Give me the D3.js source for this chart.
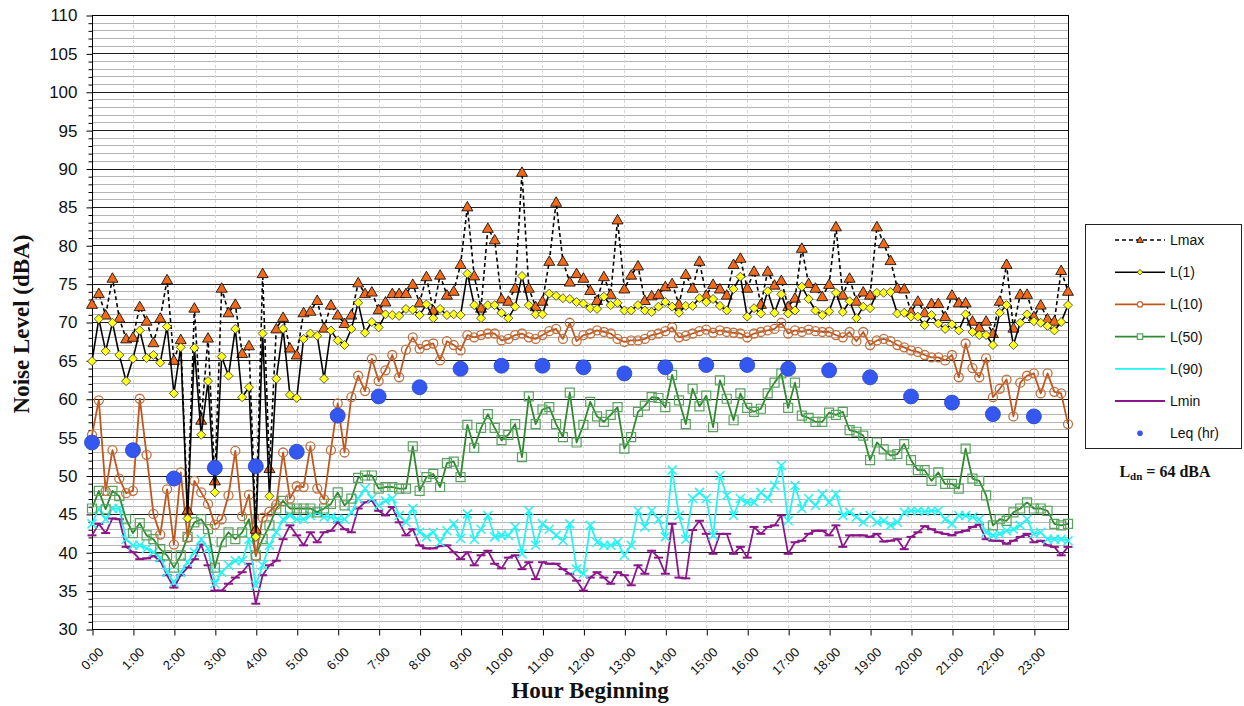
<!DOCTYPE html>
<html>
<head>
<meta charset="utf-8">
<script src="https://cdn.jsdelivr.net/npm/d3@7/dist/d3.min.js"></script>
<style>
  html, body { margin: 0; padding: 0; background: #fff; }
  svg { display: block; }
</style>
</head>
<body>
<svg id="chart" width="1244" height="706"></svg>
<script>
// Hour labels shown on the category axis, and the 10-minute steps inside each hour
const hourLabels = ["0:00","1:00","2:00","3:00","4:00","5:00","6:00","7:00","8:00","9:00","10:00","11:00",
  "12:00","13:00","14:00","15:00","16:00","17:00","18:00","19:00","20:00","21:00","22:00","23:00"];
const minuteSteps = ["00","10","20","30","40","50"];
const categories = hourLabels.flatMap(h => minuteSteps.map(m => h.replace(":00", ":" + m)));

const yTicks = [30,35,40,45,50,55,60,65,70,75,80,85,90,95,100,105,110];

// 10-minute statistics, dBA
const lmax = [72.3,73.7,70.9,75.7,70.5,67.8, 68.0,72.0,70.1,67.3,70.5,75.5, 65.0,67.7,45.5,71.8,57.2,67.9,
  49.3,74.4,71.2,72.3,65.9,66.9, 43.0,76.3,50.9,69.1,70.6,66.6, 65.7,71.2,71.4,72.8,69.2,72.2,
  70.9,69.8,70.9,75.1,73.7,73.9, 71.6,72.6,73.7,73.7,73.7,74.9, 72.5,75.9,71.5,76.1,73.5,74.0,
  77.5,85.0,76.0,71.8,82.2,80.7, 73.0,72.7,74.4,89.5,74.4,72.0, 72.7,77.9,85.6,77.9,75.2,76.3,
  75.7,74.1,72.8,75.9,73.6,83.3, 74.3,76.1,77.3,72.8,73.4,73.6, 74.6,75.0,72.3,76.2,74.4,77.9,
  73.5,74.9,74.3,73.5,77.5,78.3, 74.4,76.6,72.3,76.6,74.8,75.4, 72.0,73.1,79.6,75.0,74.4,73.3,
  74.9,82.4,73.5,75.7,72.7,73.9, 73.5,82.4,80.2,78.0,74.4,74.3, 71.3,72.7,71.2,72.4,72.4,70.7,
  73.5,72.5,72.5,70.1,69.3,70.1, 68.5,72.7,77.5,69.2,73.6,73.6, 70.7,72.2,70.4,70.1,76.7,74.0];

const l1 = [64.9,70.4,66.2,69.9,65.7,62.3, 65.2,68.9,65.3,65.7,64.7,69.4, 60.7,66.7,44.4,66.6,55.3,62.3,
  47.8,65.5,63.0,69.1,60.2,61.5, 42.0,68.5,47.3,62.6,69.1,60.5, 60.1,67.8,68.5,68.2,62.6,68.9,
  67.6,67.0,69.1,72.5,68.6,70.0, 69.3,71.0,70.9,70.8,71.7,71.6, 70.9,72.3,70.5,71.7,70.9,71.0,
  70.9,76.3,72.2,70.5,72.2,72.2, 71.2,70.5,72.0,76.0,72.2,71.0, 71.0,73.7,73.4,73.1,73.0,72.6,
  72.4,71.8,71.7,73.3,72.2,72.5, 71.5,71.5,72.2,71.5,71.3,72.0, 72.6,72.0,71.2,72.1,72.1,73.1,
  72.6,73.0,72.1,71.5,74.3,75.9, 70.7,71.8,71.1,74.0,71.2,73.6, 71.1,71.5,74.6,73.0,71.5,70.9,
  71.4,73.8,71.3,72.7,70.5,72.0, 71.8,73.8,73.8,73.9,71.1,71.2, 70.7,70.7,69.6,70.9,69.8,69.1,
  69.7,68.9,71.0,68.7,68.3,68.3, 67.0,71.2,72.2,67.0,69.9,71.0, 70.1,69.9,69.5,68.9,70.0,72.2];

const l10 = [55.3,59.8,48.0,53.3,49.6,47.7, 48.0,60.0,52.7,45.0,42.3,48.2, 41.0,50.4,41.9,49.3,47.8,46.3,
  43.6,44.3,47.4,53.2,44.7,47.5, 39.5,44.5,45.3,46.2,53.0,47.0, 48.6,48.5,53.8,48.3,46.9,53.3,
  59.4,53.0,60.2,63.0,61.0,65.2, 62.3,63.7,65.7,62.8,66.4,68.0, 66.5,67.0,67.2,65.0,67.5,67.0,
  66.3,68.3,68.0,68.3,68.5,68.5, 67.6,67.8,68.3,68.5,68.0,67.8, 68.3,68.8,69.1,67.8,69.9,67.5,
  68.3,68.5,68.9,68.7,68.5,67.8, 67.4,67.6,67.6,67.8,68.3,68.5, 68.8,69.3,68.0,68.2,68.5,68.8,
  69.0,68.6,68.9,68.7,68.6,68.5, 68.0,68.5,68.7,68.9,69.1,69.9, 68.5,68.9,68.7,69.0,68.8,68.7,
  68.7,68.3,68.0,68.7,67.5,68.7, 67.0,67.6,67.8,67.5,67.0,66.7, 66.3,66.1,65.7,65.4,65.4,65.0,
  65.7,62.8,67.2,64.0,62.8,65.3, 60.2,61.3,62.5,57.7,62.1,63.0, 63.3,60.7,63.3,60.9,60.7,56.7];

const l50 = [45.7,48.0,45.6,48.0,47.3,44.3, 42.5,43.8,42.2,41.7,40.4,39.6, 38.0,39.6,42.0,43.9,44.3,43.0,
  38.0,41.3,42.6,41.7,42.6,44.3, 39.6,41.7,43.5,45.7,46.7,45.7, 45.7,45.7,45.7,45.2,45.7,46.3,
  47.8,46.1,47.0,49.7,50.0,50.0, 48.3,48.5,48.5,48.3,48.3,53.8, 48.0,49.8,50.2,48.5,51.6,51.8,
  49.8,56.6,53.6,56.2,58.0,56.2, 54.6,55.3,56.7,52.4,60.3,56.7, 58.6,58.9,56.7,55.0,60.8,54.3,
  56.6,59.6,57.7,57.0,57.9,58.9, 53.5,55.0,58.3,59.1,60.2,60.1, 58.9,63.1,59.8,56.7,61.3,59.0,
  60.4,56.3,62.4,60.0,57.2,60.7, 58.8,58.3,58.7,60.7,62.1,63.3, 58.8,62.1,57.8,57.5,57.0,57.0,
  58.2,57.9,58.3,55.9,55.7,55.2, 52.0,54.3,53.4,52.6,52.8,54.1, 52.0,50.7,50.7,49.3,50.4,48.9,
  48.9,48.3,53.5,49.6,49.3,47.4, 43.5,44.3,44.1,45.2,45.7,46.5, 45.7,45.7,45.4,43.7,43.5,43.7];

const l90 = [43.7,45.7,44.3,45.7,45.7,41.7, 40.9,40.9,40.5,40.0,39.3,37.4, 36.1,37.4,38.7,40.0,41.7,40.5,
  35.9,37.4,38.3,38.9,38.9,41.7, 35.7,38.3,40.9,42.6,44.3,44.8, 44.3,44.3,44.8,45.2,44.6,44.6,
  44.3,44.3,45.2,47.0,48.3,47.0, 46.1,46.7,47.0,44.8,43.9,45.7, 42.6,42.0,42.6,41.3,42.8,43.7,
  41.8,45.0,41.7,43.0,44.8,42.0, 42.2,42.2,43.3,39.8,45.4,40.9, 43.7,43.0,42.2,41.5,43.7,37.8,
  37.2,43.5,41.3,40.9,40.9,41.3, 39.6,40.9,45.4,43.3,45.4,44.3, 42.0,50.7,44.8,41.7,47.0,47.8,
  47.0,42.2,50.0,47.4,44.8,47.0, 46.5,46.5,47.8,47.0,48.7,51.3, 44.1,48.7,45.7,47.0,46.1,47.6,
  46.5,47.6,44.8,45.2,44.6,43.9, 44.8,43.9,44.1,43.5,43.9,45.2, 45.4,45.4,45.3,45.4,45.4,44.3,
  43.7,44.8,44.8,44.6,44.3,42.6, 42.2,42.4,42.8,43.0,43.5,44.3, 42.4,42.6,41.7,41.7,41.7,41.5];

const lmin = [42.2,43.7,42.5,44.4,44.3,40.7, 40.0,39.1,39.2,39.5,38.9,37.0, 35.4,37.0,38.0,39.1,41.0,38.3,
  35.0,35.0,35.9,36.7,37.4,38.5, 33.3,37.0,38.3,38.9,41.7,43.5, 42.2,40.9,42.6,41.3,42.6,42.8,
  43.9,43.0,42.6,45.7,46.5,46.7, 45.4,44.8,45.9,43.9,42.2,43.0, 40.9,40.5,40.5,40.8,40.9,40.0,
  39.1,40.0,38.3,39.6,40.2,38.5, 37.9,39.3,39.6,37.8,38.7,36.5, 38.7,38.5,38.5,37.8,37.2,36.3,
  35.0,36.7,37.4,36.7,35.9,37.4, 37.0,35.7,38.3,37.2,40.2,39.3, 37.2,43.7,36.7,36.6,42.9,44.1,
  42.4,39.8,42.4,42.4,39.8,40.7, 39.3,43.3,42.4,43.3,43.5,44.8, 39.8,41.3,41.5,42.4,42.8,42.8,
  42.2,43.5,40.7,42.2,42.2,42.2, 42.0,42.4,41.4,41.5,41.7,40.4, 42.0,42.6,43.4,43.0,42.6,42.4,
  42.2,42.6,42.8,43.3,43.6,41.7, 41.5,41.5,41.1,41.5,42.0,42.4, 41.3,41.5,40.9,40.7,39.6,40.7];

// Hourly equivalent level, plotted at each hour beginning
const leqHourly = [54.3,53.3,49.6,51.0,51.2,53.1,57.8,60.3,61.5,63.9,64.3,64.3,
  64.1,63.3,64.1,64.4,64.4,63.9,63.7,62.8,60.3,59.5,58.0,57.7];

const ldnText = "64";

// ---------------------------------------------------------------------------
const svg = d3.select("#chart");
const plot = { left: 92, right: 1068, top: 15, bottom: 629 };

const x = d3.scalePoint().domain(categories).range([plot.left, plot.right]);
const y = d3.scaleLinear().domain([30, 110]).range([plot.bottom, plot.top]);

svg.append("rect").attr("width", 1244).attr("height", 706).attr("fill", "#fff");

// Horizontal grid: light lines every 1 dBA, dark lines every 5 dBA
const grid = svg.append("g");
grid.selectAll("line.minor")
  .data(d3.range(31, 110).filter(v => v % 5 !== 0))
  .join("line")
  .attr("x1", plot.left).attr("x2", plot.right)
  .attr("y1", d => Math.round(y(d)) + 0.5).attr("y2", d => Math.round(y(d)) + 0.5)
  .attr("stroke", "#b4b4b4").attr("stroke-width", 1);

// Vertical hour lines
grid.selectAll("line.vert")
  .data(hourLabels.slice(1))
  .join("line")
  .attr("x1", d => Math.round(x(d)) + 0.5).attr("x2", d => Math.round(x(d)) + 0.5)
  .attr("y1", plot.top).attr("y2", plot.bottom)
  .attr("stroke", "#d6d6d6").attr("stroke-width", 1).attr("stroke-dasharray", "3,2");

grid.selectAll("line.major")
  .data(yTicks)
  .join("line")
  .attr("x1", plot.left).attr("x2", plot.right)
  .attr("y1", d => Math.round(y(d)) + 0.5).attr("y2", d => Math.round(y(d)) + 0.5)
  .attr("stroke", "#1e1e1e").attr("stroke-width", 1);

// Plot frame
svg.append("rect")
  .attr("x", plot.left + 0.5).attr("y", Math.round(y(110)) + 0.5)
  .attr("width", plot.right - plot.left).attr("height", Math.round(y(30)) - Math.round(y(110)))
  .attr("fill", "none").attr("stroke", "#000").attr("stroke-width", 1);

// Y axis with minor ticks
const yAxis = d3.axisLeft(y).tickValues(yTicks).tickSize(6).tickPadding(9).tickFormat(d3.format("d"));
const gy = svg.append("g").attr("transform", `translate(${plot.left + 0.5},0.5)`).call(yAxis);
gy.select(".domain").remove();
gy.selectAll("text").attr("font-family", "Liberation Sans, Arial, sans-serif").attr("font-size", 17).attr("fill", "#111");
const yMinor = d3.axisLeft(y).tickValues(d3.range(31, 110).filter(v => v % 5 !== 0)).tickSize(4).tickFormat("");
const gym = svg.append("g").attr("transform", `translate(${plot.left + 0.5},0.5)`).call(yMinor);
gym.select(".domain").remove();

// X axis: one tick per hour, labels rotated
const xAxis = d3.axisBottom(x).tickValues(hourLabels).tickSize(6).tickPadding(4);
const gx = svg.append("g").attr("transform", `translate(0.5,${Math.round(plot.bottom) + 0.5})`).call(xAxis);
gx.select(".domain").attr("d", `M${plot.left},0H${plot.right}`);
gx.selectAll("text")
  .attr("font-family", "Liberation Sans, Arial, sans-serif").attr("font-size", 13).attr("fill", "#111")
  .attr("text-anchor", "end").attr("dy", "0.35em")
  .attr("transform", "translate(1,13) rotate(-45)");

// Axis titles
svg.append("text")
  .attr("transform", `translate(29,${(y(110) + y(30)) / 2 + 2}) rotate(-90)`)
  .attr("text-anchor", "middle")
  .attr("font-family", "Liberation Serif, 'Times New Roman', serif").attr("font-weight", "bold")
  .attr("font-size", 23).attr("fill", "#111")
  .text("Noise Level (dBA)");
svg.append("text")
  .attr("x", 590).attr("y", 698)
  .attr("text-anchor", "middle")
  .attr("font-family", "Liberation Serif, 'Times New Roman', serif").attr("font-weight", "bold")
  .attr("font-size", 23).attr("fill", "#111")
  .text("Hour Beginning");

// ---------------------------------------------------------------------------
// Marker shapes
const triPath = "M0,-5.5L5.5,4L-5.5,4Z";
const diaPath = "M0,-4.5L4.5,0L0,4.5L-4.5,0Z";
const sqPath = "M-4.5,-4.5H4.5V4.5H-4.5Z";
const xPath = "M-4.5,-4.5L4.5,4.5M-4.5,4.5L4.5,-4.5";
const dashPath = "M-4.5,0H4.5";
const circPath = "M4.5,0A4.5,4.5 0 1,1 -4.5,0A4.5,4.5 0 1,1 4.5,0Z";

const series = [
  { name: "Lmax", values: lmax, line: "#000", width: 1.6, dash: "4,3", marker: triPath, mFill: "#f06a1c", mStroke: "#000", mWidth: 0.8 },
  { name: "L(1)", values: l1, line: "#000", width: 1.6, dash: null, marker: diaPath, mFill: "#ffff1a", mStroke: "#333", mWidth: 0.8 },
  { name: "L(10)", values: l10, line: "#c0561c", width: 1.8, dash: null, marker: circPath, mFill: "none", mStroke: "#c0703e", mWidth: 1.3 },
  { name: "L(50)", values: l50, line: "#2d8a2d", width: 1.8, dash: null, marker: sqPath, mFill: "none", mStroke: "#58a45e", mWidth: 1.2 },
  { name: "L(90)", values: l90, line: "#22f5f5", width: 1.8, dash: null, marker: xPath, mFill: "none", mStroke: "#22f5f5", mWidth: 1.5 },
  { name: "Lmin", values: lmin, line: "#8a168a", width: 1.8, dash: null, marker: dashPath, mFill: "none", mStroke: "#8a168a", mWidth: 2 }
];

const lineGen = d3.line().x((d, i) => x(categories[i])).y(d => y(d));

const drawOrder = [5, 4, 3, 2, 0, 1];
drawOrder.forEach(k => {
  const s = series[k];
  const g = svg.append("g");
  g.append("path")
    .datum(s.values)
    .attr("d", lineGen)
    .attr("fill", "none")
    .attr("stroke", s.line)
    .attr("stroke-width", s.width)
    .attr("stroke-linejoin", "round")
    .attr("stroke-dasharray", s.dash);
  g.selectAll("path.m")
    .data(s.values)
    .join("path")
    .attr("class", "m")
    .attr("d", s.marker)
    .attr("transform", (d, i) => `translate(${x(categories[i])},${y(d)})`)
    .attr("fill", s.mFill)
    .attr("stroke", s.mStroke)
    .attr("stroke-width", s.mWidth);
});

// Hourly Leq dots
svg.append("g").selectAll("circle")
  .data(leqHourly)
  .join("circle")
  .attr("cx", (d, i) => x(hourLabels[i]))
  .attr("cy", d => y(d))
  .attr("r", 7.5)
  .attr("fill", "#3457f0")
  .attr("stroke", "#2a44c8")
  .attr("stroke-width", 0.8);

// ---------------------------------------------------------------------------
// Legend
const legend = svg.append("g");
legend.append("rect")
  .attr("x", 1085.5).attr("y", 224.5).attr("width", 156).attr("height", 224)
  .attr("fill", "#fff").attr("stroke", "#222").attr("stroke-width", 1);

const legendRows = [...series.map(s => ({ ...s, label: s.name })),
  { label: "Leq (hr)", leq: true }];
legendRows.forEach((s, i) => {
  const ly = 240 + i * 32.2;
  const row = legend.append("g");
  if (!s.leq) {
    row.append("line")
      .attr("x1", 1115).attr("x2", 1165).attr("y1", ly).attr("y2", ly)
      .attr("stroke", s.line).attr("stroke-width", s.width)
      .attr("stroke-dasharray", s.dash);
    if (i < 4) {
      row.append("path")
        .attr("d", s.marker)
        .attr("transform", `translate(1140,${ly}) scale(0.6)`)
        .attr("fill", s.mFill === "none" ? "#fff" : s.mFill)
        .attr("stroke", s.mStroke)
        .attr("stroke-width", s.mWidth / 0.6);
    }
  } else {
    row.append("circle").attr("cx", 1140).attr("cy", ly).attr("r", 2.8).attr("fill", "#3457f0");
  }
  row.append("text")
    .attr("x", 1170).attr("y", ly).attr("dy", "0.36em")
    .attr("font-family", "Liberation Sans, Arial, sans-serif").attr("font-size", 14).attr("fill", "#111")
    .text(s.label);
});

// Day-night level note
const ldn = svg.append("text")
  .attr("x", 1165).attr("y", 477)
  .attr("text-anchor", "middle")
  .attr("font-family", "Liberation Serif, 'Times New Roman', serif").attr("font-weight", "bold")
  .attr("font-size", 16).attr("fill", "#111");
ldn.append("tspan").text("L");
ldn.append("tspan").attr("font-size", 11).attr("dy", 3).text("dn");
ldn.append("tspan").attr("dy", -3).text(" = " + ldnText + " dBA");
</script>
</body>
</html>
